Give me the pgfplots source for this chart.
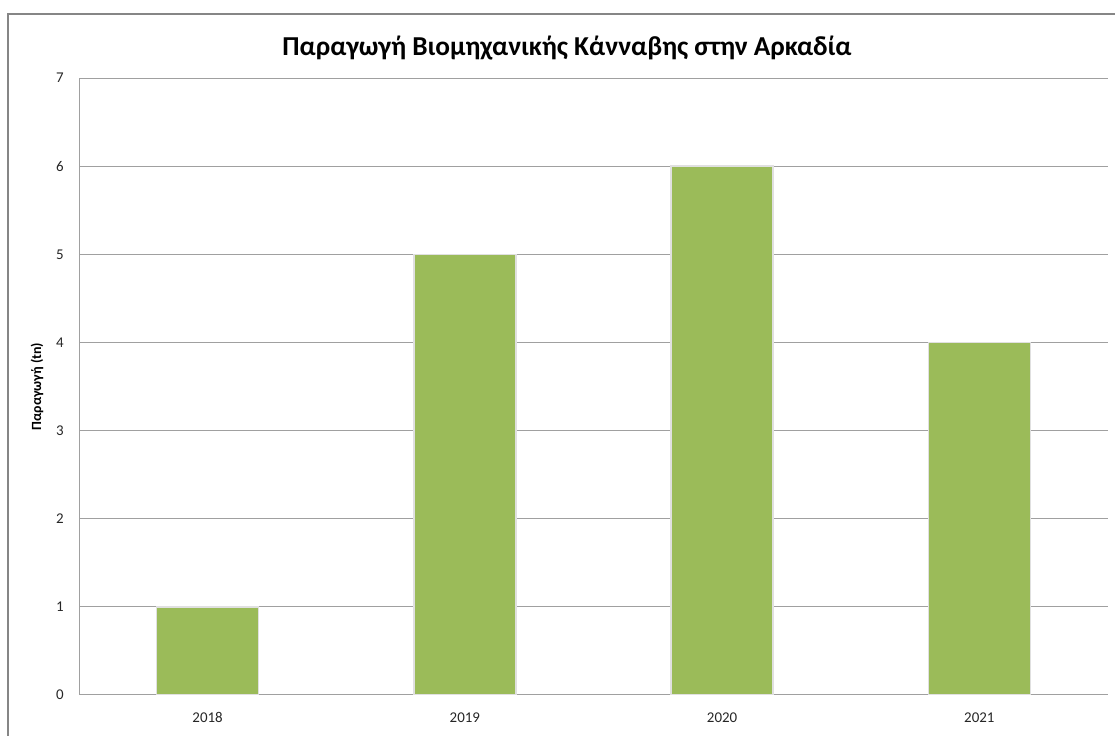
\documentclass[border=0pt]{standalone}
\usepackage{fontspec}
\setmainfont{Carlito}
\usepackage{pgfplots}
\pgfplotsset{compat=1.18}
\definecolor{bargreen}{RGB}{155,187,89}
\definecolor{gridgray}{RGB}{160,160,160}
\definecolor{framegray}{RGB}{134,134,134}
\begin{document}
\begin{tikzpicture}[x=0.75pt,y=0.75pt]
  % canvas 1115 x 736 units, y measured from the bottom
  \useasboundingbox (0,0) rectangle (1115,736);
  \fill[white] (0,0) rectangle (1115,736);
  \draw[framegray, line width=1.1pt] (8,-20) -- (8,722) -- (1130,722);
  \node[font=\bfseries\fontsize{20.5}{24}\selectfont] at (567,688)
    {Παραγωγή Βιομηχανικής Κάνναβης στην Αρκαδία};
  \begin{axis}[
    at={(59.25pt,30.75pt)}, anchor=south west,
    scale only axis,
    width=771.75pt, height=462.75pt,
    xmin=-0.5, xmax=3.5,
    ymin=0, ymax=7,
    ytick={0,1,...,7},
    xtick={0,1,2,3},
    xticklabels={2018,2019,2020,2021},
    axis x line*=bottom, axis y line*=left,
    axis line style={gridgray, line width=0.75pt, -},
    major tick length=0pt,
    ymajorgrids,
    grid style={gridgray, line width=0.75pt},
    tick label style={font=\fontsize{11.2}{13}\selectfont, text=black!85},
    /pgf/number format/assume math mode=true,
    yticklabel style={xshift=-8pt},
    xticklabel style={yshift=-9.5pt},
    ylabel={Παραγωγή (tn)},
    every axis y label/.style={at={(axis description cs:-0.0408,0.5)},
      anchor=center, rotate=90,
      font=\bfseries\fontsize{10.5}{12}\selectfont},
  ]
    \addplot[ybar, bar width=76.5pt, fill=bargreen,
      draw=white!88!black, line width=1.1pt]
      coordinates {(0,1) (1,5) (2,6) (3,4)};
  \end{axis}
\end{tikzpicture}
\end{document}
